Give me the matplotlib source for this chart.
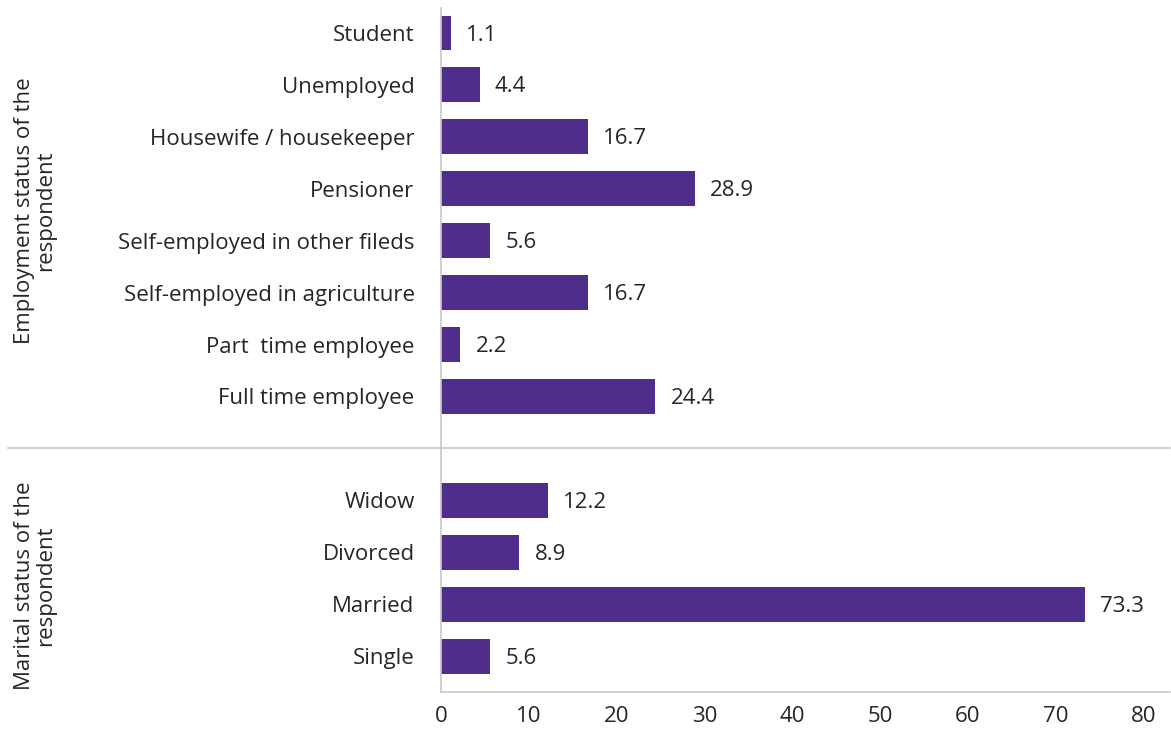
"""Horizontal bar chart: employment and marital status of respondents."""

import matplotlib
matplotlib.use("Agg")
import matplotlib.pyplot as plt

# ── Data ─────────────────────────────────────────────────────────────────────
employment_labels = [
    "Student", "Unemployed", "Housewife / housekeeper", "Pensioner",
    "Self-employed in other fileds", "Self-employed in agriculture",
    "Part  time employee", "Full time employee",
]
employment_values = [1.1, 4.4, 16.7, 28.9, 5.6, 16.7, 2.2, 24.4]

marital_labels = ["Widow", "Divorced", "Married", "Single"]
marital_values = [12.2, 8.9, 73.3, 5.6]

group_titles = ["Employment status of the\nrespondent", "Marital status of the\nrespondent"]
x_ticks = [0, 10, 20, 30, 40, 50, 60, 70, 80]

# ── Style ────────────────────────────────────────────────────────────────────
plt.rcParams["font.family"] = ["Open Sans", "DejaVu Sans"]
bar_color = "#4f2d8a"
text_color = "#262626"
line_color = "#c8c8c8"
fs = 16

fig = plt.figure(figsize=(11.71, 7.29), dpi=100)
ax = fig.add_axes([441 / 1171, 1 - 692 / 729, 729 / 1171, 684 / 729])

# positions: employment 0..7, gap slot at 8, marital 9..12
emp_pos = list(range(len(employment_labels)))
sep_pos = len(employment_labels)
mar_pos = [sep_pos + 1 + i for i in range(len(marital_labels))]

positions = emp_pos + mar_pos
labels = employment_labels + marital_labels
values = employment_values + marital_values

ax.barh(positions, values, height=0.67, color=bar_color)

# value labels to the right of each bar
for p, v in zip(positions, values):
    ax.annotate(f"{v:.1f}", xy=(v, p), xytext=(11, -1.5), textcoords="offset points",
                va="center", ha="left", fontsize=fs, color=text_color)

ax.set_yticks(positions)
ax.set_yticklabels(labels, fontsize=fs, color=text_color)
ax.set_xticks(x_ticks)
ax.set_xticklabels([str(t) for t in x_ticks], fontsize=fs, color=text_color)
ax.tick_params(axis="y", length=0, pad=19)
ax.tick_params(axis="x", length=0, pad=10)

ax.set_xlim(0, 83.0)
ax.set_ylim(12.69, -0.48)

for s in ["top", "right"]:
    ax.spines[s].set_visible(False)
for s in ["left", "bottom"]:
    ax.spines[s].set_color(line_color)
    ax.spines[s].set_linewidth(1.2)

# separator line between the groups, extending into the label area
ax.axhline(sep_pos, xmin=(8 - 441) / 729, xmax=1.0, color=line_color, lw=1.2, clip_on=False)

# rotated group titles
fig.text(35 / 1171, 1 - 211 / 729, group_titles[0], rotation=90, ha="center", va="center",
         fontsize=fs, color=text_color, linespacing=1.05)
fig.text(35 / 1171, 1 - 586 / 729, group_titles[1], rotation=90, ha="center", va="center",
         fontsize=fs, color=text_color, linespacing=1.05)

fig.savefig("out.png", dpi=100)
